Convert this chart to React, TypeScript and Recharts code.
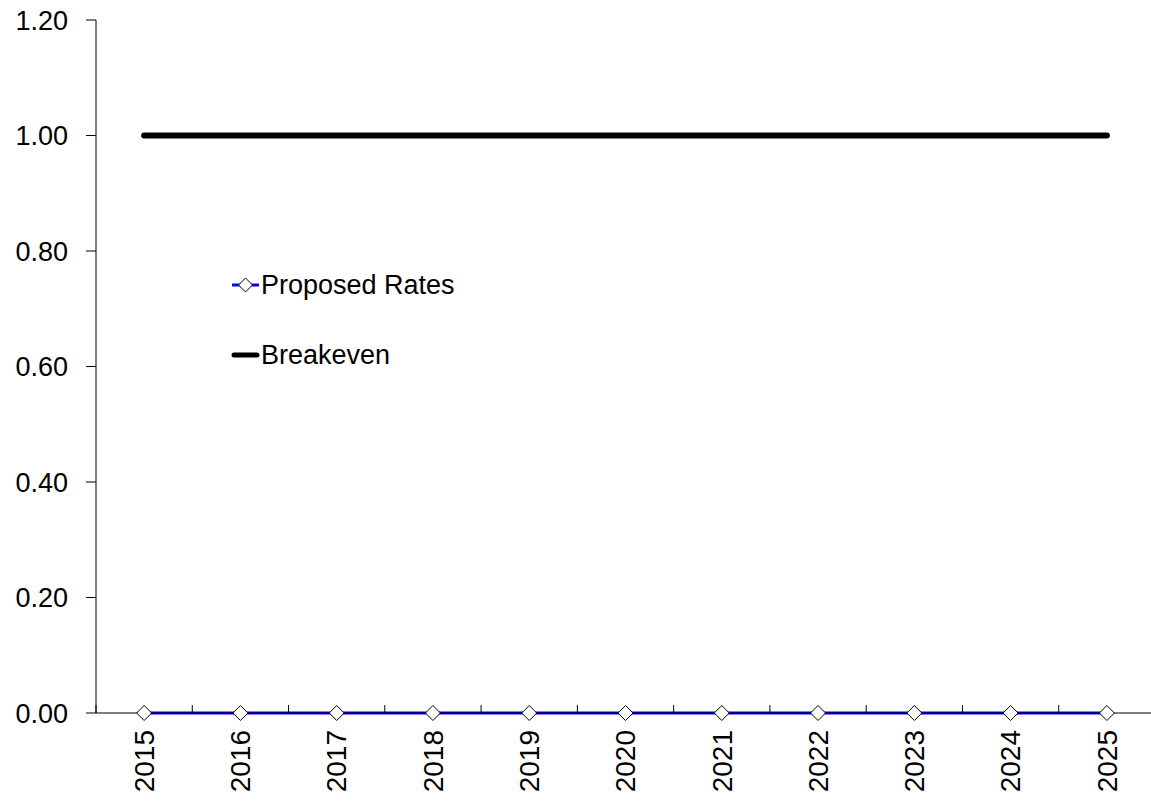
import { LineChart, Line, XAxis, YAxis, Legend } from 'recharts';

const years = ['2015', '2016', '2017', '2018', '2019', '2020', '2021', '2022', '2023', '2024', '2025'];
const proposedRates = [0, 0, 0, 0, 0, 0, 0, 0, 0, 0, 0];
const breakeven = [1, 1, 1, 1, 1, 1, 1, 1, 1, 1, 1];
const yTicks = [0, 0.2, 0.4, 0.6, 0.8, 1.0, 1.2];

const data = years.map((year, i) => ({ year, proposed: proposedRates[i], breakeven: breakeven[i] }));

const W = 1160, H = 803;
const M = { top: 20, right: 5, bottom: 0, left: 0 };
const Y_W = 96;
const band = (W - M.left - M.right - Y_W) / years.length;
const FONT = '"Liberation Sans", Arial, sans-serif';

// tick marks sit between categories and point up into the plot
const YearTick = (props: any) => {
  const { x, y, payload, index } = props;
  const last = index === years.length - 1;
  return (
    <g>
      <line x1={x - band / 2} y1={y} x2={x - band / 2} y2={y - 8} stroke="#000" />
      {last && <line x1={x + band / 2} y1={y} x2={x + band / 2} y2={y - 8} stroke="#000" />}
      <text x={x} y={y + 17} dy="0.35em" textAnchor="end" transform={`rotate(-90, ${x}, ${y + 17})`}
        fontSize={28} fontFamily={FONT} fill="#000">
        {payload.value}
      </text>
    </g>
  );
};

const Diamond = (props: any) => {
  const { cx, cy } = props;
  if (cx == null || cy == null) return null;
  const r = 7.5;
  return <polygon points={`${cx},${cy - r} ${cx + r},${cy} ${cx},${cy + r} ${cx - r},${cy}`} fill="#fff" stroke="#000" strokeWidth={1} />;
};

const LegendBox = () => (
  <svg width={280} height={120} style={{ fontFamily: FONT, display: 'block' }}>
    <line x1={2} y1={25} x2={29} y2={25} stroke="#0000ff" strokeWidth={3} />
    <polygon points="15.5,18 22.5,25 15.5,32 8.5,25" fill="#fff" stroke="#000" />
    <text x={31} y={34} fontSize={27} fill="#000">Proposed Rates</text>
    <line x1={4} y1={95} x2={27} y2={95} stroke="#000" strokeWidth={5} strokeLinecap="round" />
    <text x={31} y={104} fontSize={27} fill="#000">Breakeven</text>
  </svg>
);

export default function App() {
  return (
    <div style={{ position: 'absolute', left: 0, top: 0, width: 1151, height: 803, overflow: 'hidden', background: '#fff' }}>
      <LineChart width={W} height={H} data={data} margin={M}>
        <XAxis dataKey="year" height={H - 713} stroke="#000" tickLine={false} tickSize={0} tickMargin={0}
          tick={<YearTick />} interval={0} padding={{ left: band / 2, right: band / 2 }} />
        <YAxis width={Y_W} domain={[0, 1.2]} ticks={yTicks} tickFormatter={(v: number) => v.toFixed(2)}
          stroke="#000" tickSize={10} tickMargin={18}
          tick={{ fontSize: 27, fontFamily: FONT, fill: '#000' }} />
        <Legend content={<LegendBox />} layout="horizontal" verticalAlign="middle" align="center"
          wrapperStyle={{ position: 'absolute', left: 230, top: 260, width: 280 }} />
        <Line name="Proposed Rates" dataKey="proposed" stroke="#0000ff" strokeWidth={3}
          dot={<Diamond />} activeDot={false} isAnimationActive={false} />
        <Line name="Breakeven" dataKey="breakeven" stroke="#000" strokeWidth={6} strokeLinecap="round"
          dot={false} activeDot={false} isAnimationActive={false} />
      </LineChart>
    </div>
  );
}
